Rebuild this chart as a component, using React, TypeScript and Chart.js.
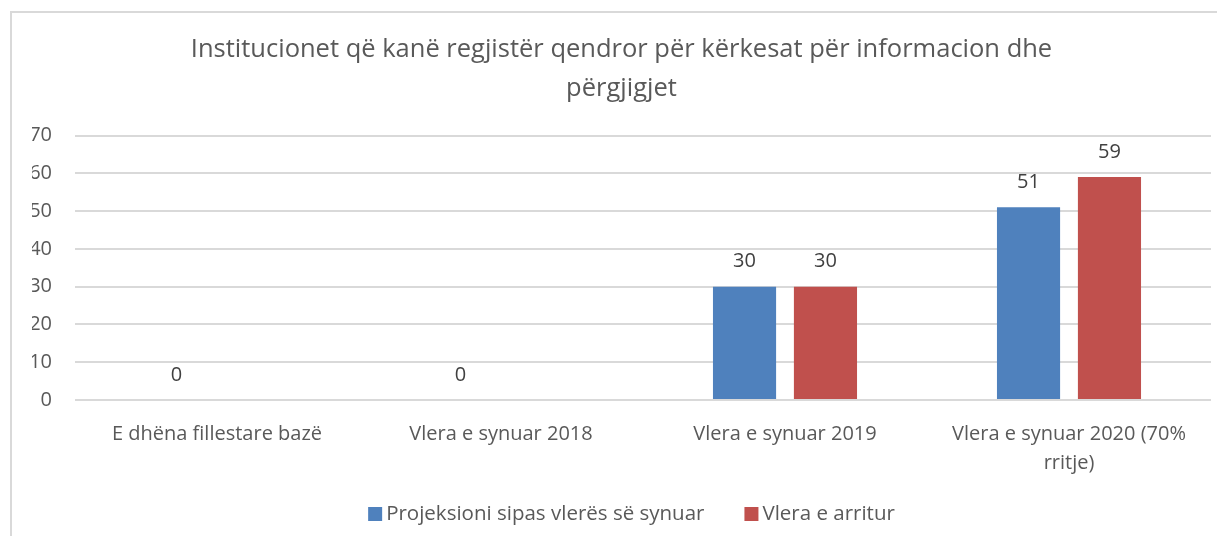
import React, { useEffect, useRef } from "react";
import { Chart, registerables } from "chart.js";

Chart.register(...registerables);

const titleLines = [
  "Institucionet që kanë regjistër qendror për kërkesat për informacion dhe",
  "përgjigjet",
];
const categories: (string | string[])[] = [
  "E dhëna fillestare bazë",
  "Vlera e synuar 2018",
  "Vlera e synuar 2019",
  ["Vlera e synuar 2020 (70%", "rritje)"],
];
const seriesNames = ["Projeksioni sipas vlerës së synuar", "Vlera e arritur"];
const projected: (number | null)[] = [0, 0, 30, 51];
const achieved: (number | null)[] = [null, null, 30, 59];
const seriesColors = ["#4f81bd", "#c0504d"];
const yTicks = [0, 10, 20, 30, 40, 50, 60, 70];

const FONT = "'Open Sans', 'Noto Sans', sans-serif";
const TEXT = "#595959";

const dataLabels = {
  id: "dataLabels",
  afterDatasetsDraw(chart: any) {
    const ctx = chart.ctx;
    ctx.save();
    ctx.fillStyle = "#404040";
    ctx.font = `20px ${FONT}`;
    ctx.textAlign = "center";
    ctx.textBaseline = "middle";
    chart.data.datasets.forEach((ds: any, di: number) => {
      const meta = chart.getDatasetMeta(di);
      meta.data.forEach((el: any, i: number) => {
        const v = ds.data[i];
        if (v === null || v === undefined) return;
        ctx.fillText(String(v), el.x, el.y - 25);
      });
    });
    ctx.restore();
  },
};

const bottomLegend = {
  id: "bottomLegend",
  afterDraw(chart: any) {
    const ctx = chart.ctx;
    ctx.save();
    ctx.font = `20.5px ${FONT}`;
    ctx.textBaseline = "middle";
    ctx.textAlign = "left";
    const box = 14;
    const gap = 4;
    const itemGap = 40;
    const items = chart.data.datasets.map((ds: any) => ({
      text: ds.label as string,
      color: ds.backgroundColor as string,
      w: box + gap + ctx.measureText(ds.label).width,
    }));
    const total =
      items.reduce((a: number, it: any) => a + it.w, 0) + itemGap * (items.length - 1);
    const cx = chart.width / 2 + 20;
    const cy = chart.height - 22;
    let x = cx - total / 2;
    items.forEach((it: any) => {
      ctx.fillStyle = it.color;
      ctx.fillRect(x, cy - box / 2, box, box);
      ctx.fillStyle = TEXT;
      ctx.fillText(it.text, x + box + gap, cy);
      x += it.w + itemGap;
    });
    ctx.restore();
  },
};

export default function App() {
  const ref = useRef<HTMLCanvasElement>(null);
  useEffect(() => {
    if (!ref.current) return;
    const chart = new Chart(ref.current, {
      type: "bar",
      data: {
        labels: categories,
        datasets: [
          {
            label: seriesNames[0],
            data: projected,
            backgroundColor: seriesColors[0],
            categoryPercentage: 0.57,
            barPercentage: 0.78,
          },
          {
            label: seriesNames[1],
            data: achieved,
            backgroundColor: seriesColors[1],
            categoryPercentage: 0.57,
            barPercentage: 0.78,
          },
        ],
      },
      options: {
        animation: false,
        responsive: false,
        layout: { padding: { left: 20, right: 0, top: 18, bottom: 42 } },
        plugins: {
          title: {
            display: true,
            text: titleLines,
            color: TEXT,
            font: { family: FONT, size: 25.5, weight: "normal", lineHeight: 1.5 },
            padding: { top: 0, bottom: 28 },
          },
          legend: { display: false },
          tooltip: { enabled: false },
        },
        scales: {
          x: {
            grid: { display: false },
            border: { display: false },
            ticks: {
              color: TEXT,
              font: { family: FONT, size: 20, lineHeight: 1.45 },
              maxRotation: 0,
              autoSkip: false,
              padding: 12,
            },
            afterFit: (s: any) => {
              s.height = 94;
            },
          },
          y: {
            min: 0,
            max: 70,
            afterBuildTicks: (s: any) => {
              s.ticks = yTicks.map((v) => ({ value: v }));
            },
            grid: { color: "#d9d9d9", lineWidth: 2, drawTicks: false },
            border: { display: false },
            ticks: {
              color: TEXT,
              font: { family: FONT, size: 20 },
              padding: 23,
            },
            afterFit: (s: any) => {
              s.width = 43;
            },
          },
        },
      },
      plugins: [dataLabels, bottomLegend],
    });
    return () => chart.destroy();
  }, []);
  return (
    <div style={{ width: 1209, height: 528, overflow: "hidden", position: "relative" }}>
      <div
        style={{
          position: "absolute",
          left: 2,
          top: 3,
          width: 1220,
          height: 560,
          border: "2px solid #d9d9d9",
        }}
      >
        <canvas ref={ref} width={1199} height={523} style={{ display: "block" }} />
      </div>
    </div>
  );
}
